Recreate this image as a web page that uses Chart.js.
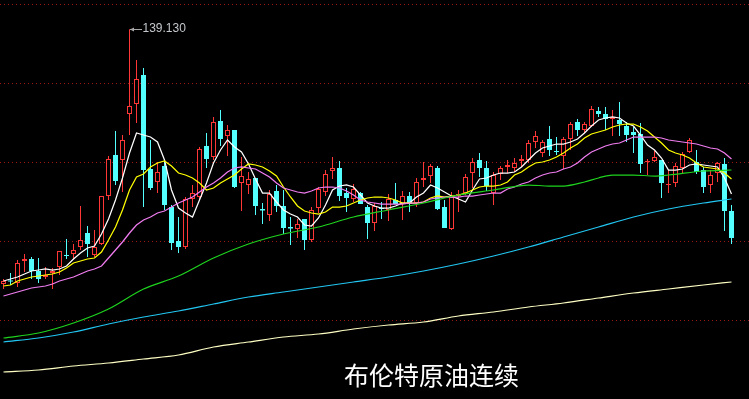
<!DOCTYPE html>
<html lang="zh">
<head>
    <meta charset="UTF-8">
    <title>布伦特原油连续</title>
    <script src="https://cdn.jsdelivr.net/npm/chart.js"></script>
    <style>
        body {
            margin: 0;
            padding: 0;
            background: #000;
            overflow: hidden;
        }

        #wrap {
            position: relative;
            width: 749px;
            height: 399px;
        }

        #peakLabel {
            position: absolute;
            font-family: 'Liberation Sans', Arial, sans-serif;
            font-size: 12px;
            line-height: 12px;
            color: #c4c8cc;
            white-space: nowrap;
        }

        #title {
            position: absolute;
            left: 344px;
            top: 362px;
            font-family: 'Noto Sans CJK SC', sans-serif;
            font-size: 25px;
            line-height: 25px;
            color: #fff;
            white-space: nowrap;
        }
    </style>
</head>
<body>
    <div id="wrap">
        <canvas id="kChart" width="749" height="399"></canvas>
        <div id="peakLabel"></div>
        <div id="title">布伦特原油连续</div>
    </div>
    <script>
// daily candles, oldest first
const opens = [
    88.2, 88.9, 88.4, 92.8, 93.2, 90.8, 89.6, 90.4, 91.6, 94.0,
    94.2, 95.6, 98.4, 94.0, 96.2, 105.8, 114.0, 113.0, 122.2, 124.2,
    130.0, 111.2, 108.6, 111.8, 103.6, 96.8, 95.6, 105.2, 105.6, 115.8,
    113.6, 120.8, 117.8, 119.0, 108.4, 108.0, 109.4, 103.2, 102.0, 106.8,
    103.8, 99.6, 99.2, 101.2, 97.0, 103.4, 106.6, 110.8, 111.4, 106.4,
    105.2, 106.4, 103.6, 100.4, 103.4, 103.0, 105.0, 104.2, 105.8, 104.4,
    109.0, 109.8, 111.4, 103.6, 99.2, 105.8, 106.4, 110.4, 113.0, 111.4,
    106.4, 110.2, 111.6, 111.4, 112.8, 113.0, 116.6, 114.4, 117.2, 114.8,
    113.8, 117.2, 120.6, 119.0, 119.8, 122.8, 122.2, 121.2, 121.0, 119.8,
    118.6, 118.2, 112.6, 112.8, 113.0, 108.0, 108.4, 111.4, 114.6, 112.6,
    111.0, 108.0, 110.4, 112.2, 102.8
];
const highs = [
    89.2, 90.4, 93.0, 94.2, 93.6, 93.4, 91.6, 91.4, 94.8, 97.2,
    96.2, 103.8, 99.8, 99.0, 105.8, 113.8, 118.8, 118.0, 139.13, 133.0,
    131.4, 117.0, 112.6, 112.6, 104.0, 101.6, 105.6, 108.0, 115.6, 118.4,
    121.6, 123.0, 120.0, 119.0, 113.6, 110.6, 109.4, 104.4, 107.0, 108.0,
    107.0, 101.6, 101.2, 101.2, 103.6, 107.6, 111.0, 113.6, 112.8, 107.4,
    108.2, 106.6, 104.0, 104.4, 104.6, 106.2, 108.4, 106.8, 106.6, 109.4,
    112.6, 112.2, 111.8, 105.0, 106.6, 107.0, 110.2, 113.4, 114.4, 112.8,
    110.6, 111.8, 113.0, 113.4, 114.0, 117.0, 118.8, 117.0, 119.8, 117.6,
    117.6, 120.6, 121.2, 120.6, 123.8, 123.6, 123.6, 123.0, 124.6, 120.6,
    119.6, 120.4, 113.2, 114.8, 113.0, 111.0, 112.4, 114.6, 117.4, 115.0,
    111.6, 111.0, 112.6, 113.4, 104.0
];
const lows = [
    87.2, 88.0, 87.6, 90.6, 89.2, 88.4, 89.2, 87.2, 90.0, 93.2,
    93.2, 95.0, 93.6, 93.6, 96.0, 105.0, 108.0, 106.6, 118.0, 120.4,
    103.6, 107.0, 106.4, 103.0, 95.0, 94.4, 95.2, 103.6, 105.2, 111.4,
    113.0, 115.8, 113.8, 107.4, 102.8, 106.2, 102.0, 100.2, 100.8, 102.6,
    98.2, 96.0, 97.4, 95.0, 96.6, 102.4, 105.8, 109.2, 104.8, 102.6,
    104.6, 104.2, 97.2, 98.8, 101.2, 100.8, 104.2, 101.0, 102.6, 103.6,
    107.6, 108.4, 103.0, 99.4, 99.0, 102.6, 106.0, 107.4, 109.6, 106.8,
    104.0, 109.0, 110.4, 110.6, 111.6, 112.4, 115.4, 113.6, 113.8, 114.0,
    111.2, 115.0, 117.8, 118.4, 119.6, 121.6, 119.0, 117.8, 117.8, 116.6,
    114.4, 110.4, 110.0, 112.6, 105.4, 106.4, 107.6, 110.4, 114.4, 110.2,
    106.4, 106.4, 108.6, 98.8, 96.2
];
const closes = [
    88.8, 88.7, 92.4, 93.2, 90.8, 89.2, 90.0, 90.8, 94.8, 93.8,
    95.0, 97.0, 96.2, 95.6, 105.8, 113.2, 108.8, 117.0, 123.8, 129.2,
    111.0, 107.4, 110.6, 104.0, 96.4, 95.6, 105.2, 106.4, 115.2, 113.2,
    120.6, 117.2, 119.0, 107.6, 109.8, 109.2, 103.8, 102.9, 106.2, 103.8,
    99.4, 99.3, 100.2, 97.0, 103.0, 107.2, 110.2, 111.4, 105.8, 105.4,
    107.2, 104.2, 100.4, 103.8, 103.2, 105.2, 104.2, 105.8, 104.2, 108.6,
    109.4, 111.8, 103.2, 99.4, 105.6, 106.2, 109.6, 112.6, 111.4, 107.8,
    110.0, 111.4, 112.0, 112.4, 113.2, 116.4, 117.8, 116.6, 115.0, 114.6,
    117.2, 120.2, 119.0, 120.2, 123.2, 122.2, 121.2, 121.6, 120.2, 118.0,
    118.0, 112.2, 112.8, 113.6, 108.4, 108.2, 111.8, 114.2, 117.0, 110.6,
    107.6, 110.0, 112.4, 102.8, 97.4
];

// moving averages, one value per candle
const ma5 = [
    88.8, 89.2, 89.6, 90.2, 90.8, 91.0, 91.2, 91.0, 91.2, 91.8,
    93.2, 94.4, 95.4, 95.8, 98.2, 101.2, 105.0, 109.4, 114.4, 118.4,
    118.0, 117.6, 116.6, 113.0, 107.0, 103.4, 102.4, 101.6, 105.0, 108.4,
    112.4, 115.0, 117.0, 115.6, 114.6, 112.2, 109.2, 106.4, 106.4, 104.6,
    103.0, 102.2, 101.6, 100.0, 99.8, 101.4, 104.0, 107.0, 107.8, 108.0,
    107.6, 106.0, 104.4, 103.8, 103.4, 103.4, 103.8, 104.4, 104.4, 105.6,
    106.4, 108.0, 107.4, 106.6, 105.8, 105.2, 104.6, 107.0, 109.2, 109.4,
    110.0, 110.4, 110.4, 110.6, 111.6, 113.0, 114.4, 115.4, 115.8, 116.2,
    116.2, 116.6, 117.2, 118.4, 119.8, 121.0, 121.4, 121.6, 121.4, 120.4,
    119.8, 118.0, 116.0, 115.0, 113.4, 111.0, 111.0, 111.2, 112.0, 112.2,
    112.0, 111.8, 111.6, 109.4, 106.2
];
const ma10 = [
    87.8, 88.0, 88.8, 89.2, 89.6, 89.8, 90.0, 90.2, 90.6, 91.4,
    92.4, 92.8, 93.2, 93.4, 94.6, 97.0, 99.6, 103.0, 107.0, 109.6,
    110.2, 111.6, 112.4, 112.8, 111.8, 110.4, 110.0, 109.4, 108.4, 107.0,
    107.4, 108.4, 109.2, 110.0, 111.2, 112.2, 112.0, 111.6, 110.8, 109.8,
    107.6, 105.6, 103.8, 102.8, 102.4, 102.2, 102.6, 103.6, 103.6, 103.8,
    104.4, 105.0, 105.4, 105.6, 105.6, 105.4, 105.0, 104.4, 104.4, 104.4,
    104.6, 105.4, 105.8, 105.6, 105.8, 106.0, 106.4, 107.0, 107.6, 107.8,
    107.8, 108.0, 108.6, 110.0, 110.6, 111.6, 112.4, 112.6, 113.0, 113.6,
    114.4, 115.4, 116.2, 117.4, 118.2, 118.6, 119.0, 119.6, 120.0, 120.2,
    120.2, 119.6, 118.8, 117.6, 116.4, 115.0, 114.4, 114.0, 113.4, 112.4,
    111.6, 111.4, 111.2, 110.4, 109.2
];
const ma20 = [
    85.8, 86.2, 86.6, 87.0, 87.4, 87.6, 87.8, 88.2, 88.8, 89.2,
    89.6, 90.2, 90.8, 91.2, 91.8, 93.4, 95.0, 96.6, 98.4, 100.0,
    101.0, 101.6, 102.4, 102.8, 103.6, 104.4, 105.0, 105.6, 106.6, 107.6,
    108.4, 109.4, 110.6, 111.4, 111.6, 111.4, 111.2, 110.4, 109.6, 108.4,
    107.4, 107.0, 106.6, 106.4, 106.8, 107.4, 107.6, 107.6, 107.4, 106.8,
    106.0, 105.0, 104.6, 104.4, 104.2, 104.2, 104.2, 104.2, 104.4, 104.4,
    104.6, 105.2, 105.4, 105.6, 105.6, 105.6, 105.8, 105.8, 106.0, 106.2,
    106.4, 106.4, 107.2, 107.6, 108.2, 108.6, 109.4, 110.0, 110.4, 110.6,
    111.2, 111.6, 112.4, 113.6, 114.6, 115.2, 115.8, 116.2, 116.4, 117.0,
    117.6, 117.6, 117.6, 117.6, 117.4, 117.0, 116.8, 116.6, 116.4, 116.2,
    115.8, 115.4, 115.2, 114.4, 113.2
];

// slow averages, read at a few candles only
const ma60Idx = [0, 5, 10, 15, 20, 25, 30, 35, 40, 45, 50, 55, 60, 65, 70, 75, 78, 80, 83, 85, 87, 90, 93, 95, 100, 104];
const ma60 = [77.4, 78.4, 80.4, 83.2, 87.2, 89.8, 93.4, 96.2, 98.2, 99.6, 101.6, 103.0, 104.4, 106.0, 107.0, 108.0, 107.8, 107.8, 108.6, 109.4, 110.0, 110.0, 109.8, 110.0, 110.8, 111.0];
const slowIdx = [0, 5, 10, 15, 20, 25, 30, 35, 40, 45, 50, 55, 60, 65, 70, 75, 80, 85, 90, 95, 100, 104];
const ma120 = [76.6, 77.4, 78.6, 80.2, 81.6, 82.8, 84.2, 85.6, 86.6, 87.6, 88.6, 89.6, 90.8, 92.2, 93.8, 95.6, 97.6, 99.6, 101.6, 103.2, 104.4, 105.2];
const ma250 = [70.6, 71.0, 71.8, 72.4, 73.2, 74.0, 75.6, 76.6, 77.6, 78.2, 79.2, 80.0, 80.6, 81.8, 82.6, 83.6, 84.4, 85.4, 86.4, 87.2, 88.0, 88.6];

const gridLevels = [144.1, 128.3, 112.5, 96.7, 80.9];

const UP = '#ff3636';
const DOWN = '#54ffff';

const idx = closes.map((c, i) => i);
const isUp = idx.map(i => closes[i] >= opens[i]);
const peakIndex = highs.indexOf(Math.max(...highs));

const dottedGrid = {
    id: 'dottedGrid',
    beforeDatasetsDraw(chart) {
        const { ctx, chartArea, scales } = chart;
        ctx.save();
        ctx.strokeStyle = '#9a1616';
        ctx.lineWidth = 1;
        ctx.setLineDash([1, 3]);
        gridLevels.forEach(v => {
            const py = Math.floor(scales.y.getPixelForValue(v)) + 0.5;
            ctx.beginPath();
            ctx.moveTo(chartArea.left, py);
            ctx.lineTo(chartArea.right, py);
            ctx.stroke();
        });
        ctx.restore();
    }
};

// little arrow pointing at the highest high
const peakArrow = {
    id: 'peakArrow',
    afterDatasetsDraw(chart) {
        const { ctx, scales } = chart;
        const px = Math.floor(scales.x.getPixelForValue(peakIndex)) + 1;
        const py = Math.floor(scales.y.getPixelForValue(highs[peakIndex])) + 0.5;
        ctx.save();
        ctx.strokeStyle = '#a8a8a8';
        ctx.fillStyle = '#a8a8a8';
        ctx.lineWidth = 1;
        ctx.beginPath();
        ctx.moveTo(px, py);
        ctx.lineTo(px + 12, py);
        ctx.stroke();
        ctx.beginPath();
        ctx.moveTo(px, py);
        ctx.lineTo(px + 4, py - 2);
        ctx.lineTo(px + 4, py + 2);
        ctx.closePath();
        ctx.fill();
        ctx.restore();
    }
};

function maLine(points, color, smooth) {
    return {
        type: 'line',
        data: points,
        borderColor: color,
        borderWidth: 1.25,
        pointRadius: 0,
        tension: 0,
        cubicInterpolationMode: smooth ? 'monotone' : 'default',
        order: 1
    };
}

const ctx = document.getElementById('kChart').getContext('2d');
const chart = new Chart(ctx, {
    type: 'bar',
    data: {
        datasets: [
            {
                // wicks
                data: idx.map(i => ({ x: i, y: [lows[i], highs[i]] })),
                backgroundColor: idx.map(i => isUp[i] ? UP : DOWN),
                barThickness: 1,
                grouped: false,
                inflateAmount: 0,
                order: 3
            },
            {
                // bodies: hollow red for up days, filled cyan for down days
                data: idx.map(i => ({ x: i, y: [opens[i], closes[i]] })),
                backgroundColor: idx.map(i => isUp[i] ? '#000000' : DOWN),
                borderColor: idx.map(i => isUp[i] ? UP : DOWN),
                borderWidth: idx.map(i => isUp[i] ? 1 : 0),
                borderSkipped: false,
                barThickness: 5,
                grouped: false,
                inflateAmount: 0,
                order: 2
            },
            maLine(ma250.map((v, k) => ({ x: slowIdx[k], y: v })), '#ffffc4', true),
            maLine(ma120.map((v, k) => ({ x: slowIdx[k], y: v })), '#22c6f2', true),
            maLine(ma60.map((v, k) => ({ x: ma60Idx[k], y: v })), '#1ed21e', true),
            maLine(ma20.map((v, i) => ({ x: i, y: v })), '#f07cf0', false),
            maLine(ma10.map((v, i) => ({ x: i, y: v })), '#ffff00', false),
            maLine(ma5.map((v, i) => ({ x: i, y: v })), '#ffffff', false)
        ]
    },
    options: {
        responsive: false,
        animation: false,
        devicePixelRatio: 1,
        layout: { padding: 0 },
        plugins: {
            legend: { display: false },
            tooltip: { enabled: false }
        },
        scales: {
            x: { type: 'linear', min: -0.5, max: 106.5, offset: false, display: false },
            y: { type: 'linear', min: 65.2, max: 145, display: false }
        }
    },
    plugins: [dottedGrid, peakArrow]
});

// put the high value next to its arrow
const label = document.getElementById('peakLabel');
label.textContent = highs[peakIndex].toFixed(3);
label.style.left = (chart.scales.x.getPixelForValue(peakIndex) + 13) + 'px';
label.style.top = (chart.scales.y.getPixelForValue(highs[peakIndex]) - 7) + 'px';
    </script>
</body>
</html>
